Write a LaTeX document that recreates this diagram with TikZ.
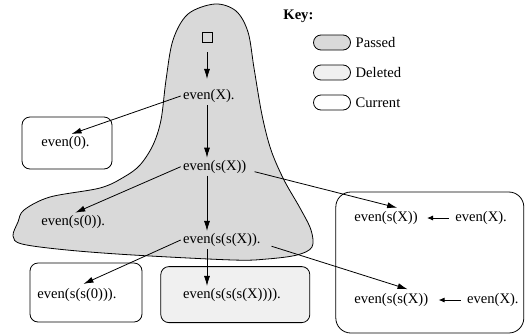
\documentclass[tikz,border=0pt]{standalone}
\usepackage{fontspec}
\setmainfont{Liberation Serif}
\usetikzlibrary{arrows.meta}

\begin{document}
\begin{tikzpicture}[x=1pt, y=-1pt, line width=0.8pt,
			>={Latex[length=10pt,width=6pt]},
			goal node/.style={anchor=west,inner sep=2pt,font=\fontsize{14.6}{17}\selectfont},
			box node/.style={draw,rounded corners=8pt,inner sep=0pt},
			key node/.style={draw,rounded corners=7.5pt,minimum width=37pt,minimum height=15pt,inner sep=0pt}]
			
			\useasboundingbox (0,0) rectangle (526,335);
			
			\filldraw[fill=black!15] plot[smooth cycle, tension=0.55] coordinates {
				(215,4) (236,11) (248,32) (254,68) (262,115) (271,150) (284,180)
				(300,208) (311,230) (312,247) (297,255) (267,259) (233,260) (133,255)
				(67,250) (22,244) (13,236) (18,222) (24,210) (50,197) (100,188)
				(124,177) (140,165) (153,145) (161,120) (166,80) (173,40) (188,14)};
			
			\node[box node,minimum width=90pt,minimum height=52pt] (b0) at (67,143) {};
			\node[box node,minimum width=112pt,minimum height=59pt] (b2) at (86,292.5) {};
			\node[box node,fill=black!6,minimum width=149pt,minimum height=56pt] (b3) at (235.3,294.6) {};
			\node[box node,rounded corners=15pt,minimum width=188pt,minimum height=141pt] (b4) at (429.8,262.5) {};
			
			\node[draw,minimum size=10pt,inner sep=0pt] (sq) at (207,37) {};
			\node[goal node] (e0) at (180.7,96) {even(X).};
			\node[goal node] (e1) at (180.7,166.7) {even(s(X))};
			\node[goal node] (e2) at (180.7,240) {even(s(s(X)).};
			\node[goal node] (z0) at (39,143) {even(0).};
			\node[goal node] (z1) at (39,221.7) {even(s(0)).};
			\node[goal node] (z2) at (35,295) {even(s(s(0))).};
			\node[goal node] (d3) at (180.7,295) {even(s(s(s(X)))).};
			
			\node[goal node] (r1h) at (352,218) {even(s(X))};
			\node[goal node] (r1b) at (453,218) {even(X).};
			\node[goal node] (r2h) at (352,300) {even(s(s(X))};
			\node[goal node] (r2b) at (464.7,300) {even(X).};
			
			\node[goal node,font=\fontsize{14.6}{17}\selectfont\bfseries] (key) at (281,16.7) {Key:};
			\node[key node,fill=black!15] (k1) at (332,42.5) {};
			\node[key node,fill=black!6] (k2) at (332,72.5) {};
			\node[key node] (k3) at (332,102.5) {};
			\node[goal node] (l1) at (353.3,42.5) {Passed};
			\node[goal node] (l2) at (353.3,72.5) {Deleted};
			\node[goal node] (l3) at (353.3,102.5) {Current};
			
			\path[->]
			(sq) edge [shorten <=10pt,shorten >=8pt] (e0.north -| sq)
			(e0.south -| sq) edge (e1.north -| sq)
			(e1.south -| sq) edge (e2.north -| sq)
			(e2.south -| sq) edge (d3.north -| sq)
			
			(e0.west) edge ([xshift=6pt]z0.north)
			(e1.west) edge ([xshift=2pt]z1.north)
			(e2.west) edge [shorten >=5pt] ([xshift=2pt]z2.north)
			
			(e1.base east) edge [shorten <=6pt,shorten >=5pt] ([xshift=16pt]r1h.north)
			(e2.base east) edge [shorten <=9pt,shorten >=6pt] ([xshift=22pt]r2h.north);
			
			\path[->,>={Latex[length=6pt,width=5pt]}]
			(r1b.west) edge [shorten <=4pt,shorten >=7pt] (r1h.east)
			(r2b.west) edge [shorten <=4pt,shorten >=8pt] (r2h.east);
			
		\end{tikzpicture}
\end{document}
